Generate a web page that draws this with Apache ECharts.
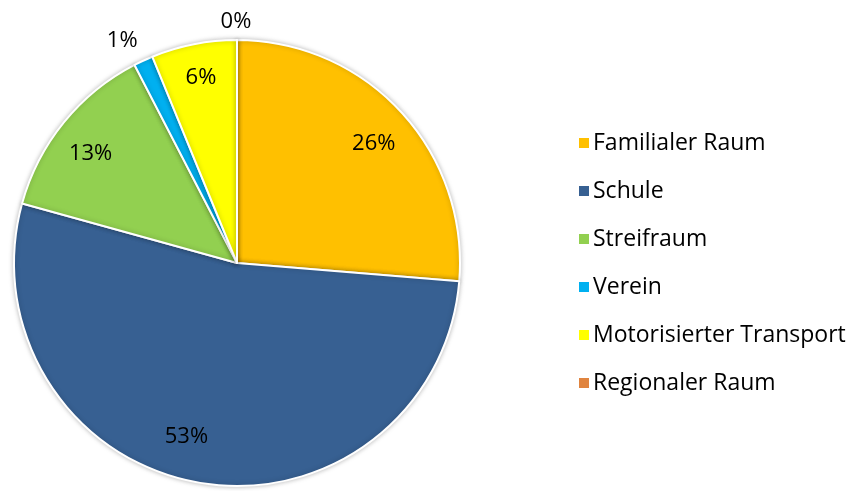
<!DOCTYPE html>
<html><head><meta charset="utf-8">
<script src="https://cdn.jsdelivr.net/npm/echarts@6/dist/echarts.min.js"></script>
<style>html,body{margin:0;padding:0;background:#fff}#c{width:853px;height:491px}</style>
</head><body><div id="c"></div>
<script>
var categories = ['Familialer Raum', 'Schule', 'Streifraum', 'Verein', 'Motorisierter Transport', 'Regionaler Raum'];
var values = [26.3, 53.0, 13.1, 1.4, 6.2, 0];

// styling (kept separate from data)
var colors = ['#FFC000', '#376092', '#92D050', '#00B0F0', '#FFFF00', '#E0843F'];
var outsideLabel = [false, false, false, true, false, true];
var labelNudge = [[0, 7], [-18, -9], [-2, 8], [-11, 2], [0, -3], [-1, 6]];

var FONT = 'Open Sans';
var center = [237, 263];
var R = 223;

function mk(i, opts) { return Object.assign({ name: categories[i], value: values[i] }, opts || {}); }
function fmt(p) { return Math.round(p.value) + '%'; }

var mainData = categories.map(function (c, i) { return mk(i, { itemStyle: { color: colors[i] } }); });
var innerLabelData = categories.map(function (c, i) {
  return mk(i, { label: { show: !outsideLabel[i], offset: labelNudge[i] } });
});
var outerLabelData = categories.map(function (c, i) {
  return mk(i, { label: { show: outsideLabel[i], offset: labelNudge[i] } });
});

var chart = echarts.init(document.getElementById('c'));
chart.setOption({
  animation: false,
  legend: {
    orient: 'vertical',
    left: 572,
    top: 126,
    itemWidth: 12,
    itemHeight: 12,
    itemGap: 24,
    icon: 'rect',
    data: categories,
    textStyle: { fontFamily: FONT, fontSize: 23, color: '#000', lineHeight: 24, padding: [0, 0, 0, -2] }
  },
  series: [
    {
      type: 'pie', center: center, radius: [0, R], startAngle: 90, clockwise: true,
      data: mainData, silent: true,
      label: { show: false }, labelLine: { show: false },
      itemStyle: { borderColor: '#fff', borderWidth: 2, shadowBlur: 5, shadowColor: 'rgba(0,0,0,0.25)' }
    },
    {
      type: 'pie', center: center, radius: [143, R], startAngle: 90, clockwise: true,
      data: innerLabelData, silent: true,
      itemStyle: { color: 'rgba(0,0,0,0)' },
      label: { position: 'inside', formatter: fmt, fontFamily: FONT, fontSize: 22, color: '#000' },
      labelLine: { show: false }
    },
    {
      type: 'pie', center: center, radius: [226, 262], startAngle: 90, clockwise: true,
      data: outerLabelData, silent: true,
      itemStyle: { color: 'rgba(0,0,0,0)' },
      label: { position: 'inside', formatter: fmt, fontFamily: FONT, fontSize: 22, color: '#000' },
      labelLine: { show: false }
    }
  ]
});
</script></body></html>
